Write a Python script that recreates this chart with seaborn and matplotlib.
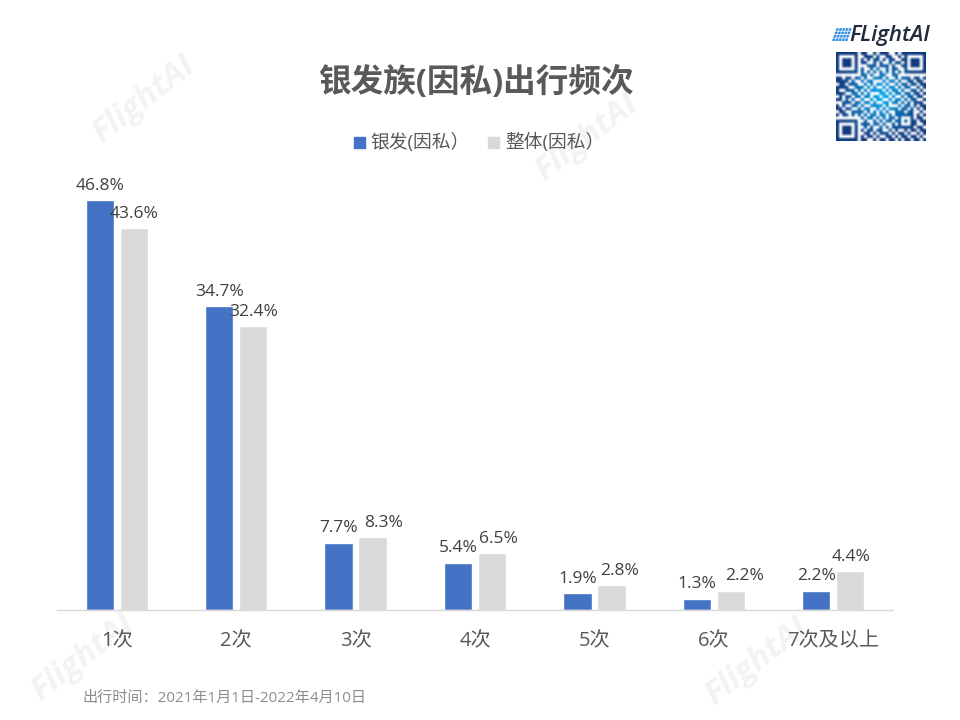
import numpy as np
import pandas as pd
import matplotlib
matplotlib.use('Agg')
import matplotlib.pyplot as plt
import matplotlib.patches as mpatches
import seaborn as sns

# data
categories = ['1次', '2次', '3次', '4次', '5次', '6次', '7次及以上']
silver = [46.8, 34.7, 7.7, 5.4, 1.9, 1.3, 2.2]
overall = [43.6, 32.4, 8.3, 6.5, 2.8, 2.2, 4.4]
series_names = ['银发(因私）', '整体(因私）']
colors = ['#4472C4', '#D9D9D9']

title_text = '银发族(因私)出行频次'
footnote = '出行时间：2021年1月1日-2022年4月10日'
watermark = 'FlightAI'
watermark_spots = [(144, 100), (587, 138), (83, 658), (757, 662)]

# hand-read qr pattern, 29 modules
qr_rows = [
    '11111110110010111001011111111',
    '10000010011101001100101000001',
    '10111010101011010110011011101',
    '10111010110010100101101011101',
    '10111010001110111010011011101',
    '10000010100101001011001000001',
    '11111110101010101010101111111',
    '00000000110100110011000000000',
    '11011011010011101001011101101',
    '11110100101100010110100110110',
    '01101110010101101001011011011',
    '11110011101010010110101100101',
    '10011101010111101011010011010',
    '11100110101000110101101101101',
    '01011011011011011010010110110',
    '11010100100101100101101011001',
    '00111011011010011011010101110',
    '10100110100111101000101101011',
    '11011001011001010111011010101',
    '01100111101010101001110110010',
    '10110101010110110101111110101',
    '00000000101101010110100010110',
    '11111110010010101101101011011',
    '10000010111011010010100011001',
    '10111010010100101011111110110',
    '10111010101101100101001011011',
    '10111010011010111010110100101',
    '10000010101101001101011011010',
    '11111110110010110110101101101',
]

sns.set_theme(style='white')
plt.rcParams['font.family'] = ['Open Sans', 'Noto Sans CJK SC', 'DejaVu Sans']

df = pd.DataFrame({
    '频次': categories * 2,
    '占比': silver + overall,
    '类型': [series_names[0]] * 7 + [series_names[1]] * 7,
})

W, H = 960, 720
fig = plt.figure(figsize=(9.6, 7.2), dpi=100)
ax = fig.add_axes([57 / W, 1 - 610 / H, 836 / W, 440 / H])
ax.patch.set_alpha(0)

sns.barplot(data=df, x='频次', y='占比', hue='类型', order=categories,
            hue_order=series_names, palette=colors, width=0.57, gap=0.17,
            saturation=1, legend=False, ax=ax)
ax.set_xlim(-0.5, 6.5)
ax.set_ylim(0, 440 / 8.76)

# the grey labels were pushed right in the original, px per category
overall_shift = [0, 0, 11, 6, 8, 14, 1]
for i, c in enumerate(ax.containers):
    labels = ax.bar_label(c, fmt='%.1f%%', padding=4.5, fontsize=12.5, color='#404040')
    if i == 1:
        for lab, dx in zip(labels, overall_shift):
            lab.xyann = (dx * 0.72, lab.xyann[1])

ax.set_xlabel('')
ax.set_ylabel('')
ax.set_yticks([])
ax.tick_params(axis='x', length=0, pad=15, labelsize=14.5, labelcolor='#595959')
sns.despine(ax=ax, left=True)
ax.spines['bottom'].set_color('#D9D9D9')
ax.spines['bottom'].set_linewidth(1)

# title, legend, footnote in pixel positions
fig.text(476 / W, 1 - 83 / H, title_text, ha='center', va='center',
         fontsize=23.5, fontweight='bold', color='#595959')
fig.add_artist(mpatches.Rectangle((354 / W, 1 - 148 / H), 11 / W, 11 / H, color=colors[0]))
fig.text(370 / W, 1 - 142 / H, series_names[0], va='center', fontsize=13.5, color='#595959')
fig.add_artist(mpatches.Rectangle((488 / W, 1 - 148 / H), 11 / W, 11 / H, color=colors[1]))
fig.text(505 / W, 1 - 142 / H, series_names[1], va='center', fontsize=13.5, color='#595959')
fig.text(82 / W, 1 - 698 / H, footnote, va='center', fontsize=10.9, color='#8C8C8C')

# watermarks sit behind the axes
for x, y in watermark_spots:
    fig.text(x / W, 1 - y / H, watermark, ha='center', va='center', rotation=38,
             fontsize=24, fontweight='bold', style='italic', color='#F3F3F3',
             family='Open Sans', zorder=-1)

# logo: small skewed grid and wordmark
for row in range(4):
    for col in range(5):
        x0 = 832 + col * 3.2 + row * 1.2
        y0 = 41 - row * 3.4
        fig.add_artist(mpatches.Polygon(
            [((x0 + dx) / W, 1 - (y0 - dy) / H)
             for dx, dy in [(0, 0), (2.5, 0), (3.4, 2.6), (0.9, 2.6)]],
            closed=True, color='#2F8FE6', lw=0))
fig.text(849 / W, 1 - 35 / H, 'FLightAI', va='center', fontsize=16, style='italic',
         fontweight='semibold', color='#1F2A3C', family='Open Sans')

# qr code, dark navy at the edge to light blue in the middle
qr = np.array([[int(v) for v in r] for r in qr_rows], dtype=float)
yy, xx = np.mgrid[0:29, 0:29]
dist = np.clip(np.hypot(xx - 14, yy - 14) / 14, 0, 1)[..., None]
dark = dist * np.array([0.07, 0.23, 0.50]) + (1 - dist) * np.array([0.0, 0.67, 0.95])
img = qr[..., None] * dark + (1 - qr[..., None])
qax = fig.add_axes([836 / W, 1 - 141 / H, 89 / W, 89 / H])
qax.imshow(img, interpolation='bilinear', aspect='auto')
qax.axis('off')

fig.savefig('out.png', dpi=100)
